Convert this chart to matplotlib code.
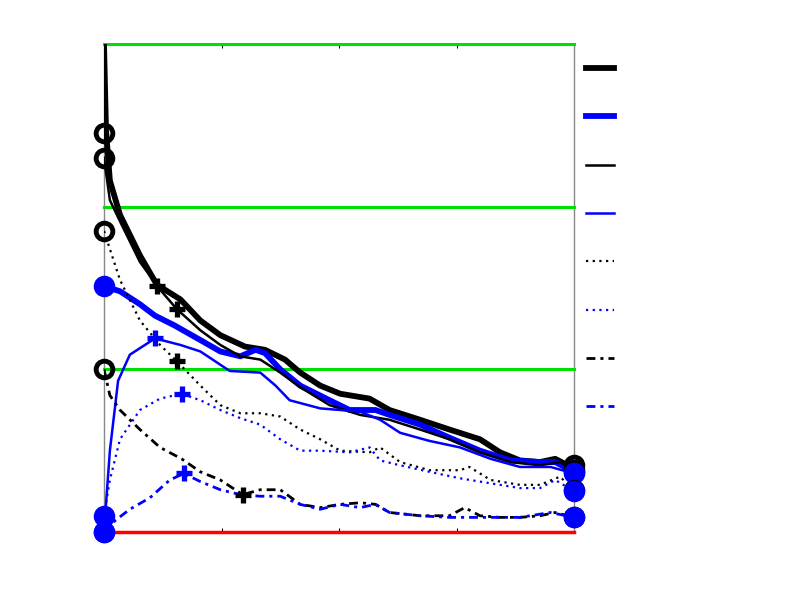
import numpy as np
import matplotlib
matplotlib.use("Agg")
import matplotlib.pyplot as plt

# --- data --------------------------------------------------------------
x1 = [0, 0.017, 0.05, 0.136, 0.306, 0.45, 0.65, 0.82, 0.99, 1.2, 1.37, 1.54, 1.67,
      1.84, 2.01, 2.26, 2.43, 2.69, 2.94, 3.2, 3.37, 3.54, 3.71, 3.84, 3.92, 4.0]
y1 = [3.0, 2.47, 2.16, 1.95, 1.70, 1.52, 1.43, 1.30, 1.21, 1.14, 1.12, 1.06, 0.98,
      0.90, 0.85, 0.82, 0.75, 0.69, 0.63, 0.57, 0.49, 0.44, 0.43, 0.45, 0.42, 0.41]

x2 = [0, 0.136, 0.306, 0.434, 0.6, 0.82, 0.99, 1.16, 1.29, 1.37, 1.5, 1.67, 1.92,
      2.09, 2.31, 2.43, 2.69, 2.94, 3.2, 3.46, 3.71, 3.84, 4.0]
y2 = [1.51, 1.48, 1.40, 1.33, 1.27, 1.18, 1.11, 1.08, 1.12, 1.10, 1.0, 0.90, 0.81,
      0.75, 0.75, 0.72, 0.66, 0.58, 0.50, 0.44, 0.43, 0.43, 0.37]

x3 = [0, 0.05, 0.136, 0.306, 0.477, 0.62, 0.82, 0.99, 1.16, 1.33, 1.5, 1.67, 1.92,
      2.18, 2.43, 2.69, 2.94, 3.2, 3.46, 3.71, 3.88, 4.0]
y3 = [2.30, 2.04, 1.91, 1.66, 1.49, 1.37, 1.24, 1.15, 1.08, 1.06, 0.98, 0.89, 0.78,
      0.72, 0.69, 0.63, 0.57, 0.49, 0.43, 0.41, 0.43, 0.38]

x4 = [0, 0.05, 0.12, 0.22, 0.434, 0.65, 0.82, 1.07, 1.33, 1.46, 1.58, 1.84, 2.01,
      2.18, 2.35, 2.52, 2.77, 3.03, 3.29, 3.54, 3.8, 4.0]
y4 = [0, 0.50, 0.93, 1.09, 1.19, 1.15, 1.11, 0.99, 0.98, 0.90, 0.81, 0.76, 0.75,
      0.74, 0.69, 0.61, 0.56, 0.52, 0.45, 0.40, 0.40, 0.36]

x5 = [0, 0.136, 0.306, 0.477, 0.62, 0.82, 0.99, 1.16, 1.33, 1.5, 1.67, 1.84, 2.01,
      2.26, 2.35, 2.52, 2.77, 3.03, 3.11, 3.29, 3.54, 3.71, 3.88, 4.0]
y5 = [1.85, 1.55, 1.30, 1.15, 1.05, 0.90, 0.78, 0.73, 0.73, 0.71, 0.63, 0.57, 0.50,
      0.49, 0.52, 0.43, 0.38, 0.38, 0.40, 0.32, 0.29, 0.29, 0.34, 0.26]

x6 = [0, 0.05, 0.136, 0.306, 0.477, 0.66, 0.82, 0.99, 1.16, 1.33, 1.5, 1.67, 1.84,
      2.09, 2.26, 2.35, 2.52, 2.77, 3.03, 3.2, 3.54, 3.71, 3.84, 4.0]
y6 = [0.10, 0.32, 0.57, 0.75, 0.82, 0.85, 0.81, 0.75, 0.70, 0.66, 0.57, 0.50, 0.50,
      0.49, 0.52, 0.44, 0.41, 0.37, 0.33, 0.31, 0.27, 0.27, 0.32, 0.25]

x7 = [0, 0.05, 0.136, 0.306, 0.477, 0.66, 0.82, 0.99, 1.18, 1.33, 1.5, 1.67, 1.84,
      2.01, 2.18, 2.31, 2.43, 2.69, 2.94, 3.07, 3.2, 3.37, 3.54, 3.71, 3.84, 4.0]
y7 = [1.0, 0.84, 0.75, 0.63, 0.52, 0.45, 0.37, 0.32, 0.23, 0.26, 0.26, 0.17, 0.15,
      0.17, 0.18, 0.17, 0.12, 0.10, 0.10, 0.15, 0.10, 0.09, 0.09, 0.10, 0.12, 0.09]

x8 = [0, 0.094, 0.22, 0.39, 0.56, 0.68, 0.82, 0.99, 1.16, 1.33, 1.5, 1.67, 1.84,
      2.01, 2.18, 2.31, 2.43, 2.69, 2.94, 3.2, 3.54, 3.8, 4.0]
y8 = [0, 0.07, 0.14, 0.21, 0.32, 0.36, 0.31, 0.26, 0.23, 0.22, 0.22, 0.17, 0.14,
      0.17, 0.15, 0.17, 0.12, 0.10, 0.09, 0.09, 0.09, 0.12, 0.09]

# start circle values, and '+' marker positions
start_y = [2.45, 1.51, 2.30, 0.0, 1.85, 0.10, 1.0, 0.0]
peak_x = [0.45, 0.0, 0.62, 0.434, 0.62, 0.66, 1.18, 0.68]
peak_y = [1.51, 1.51, 1.37, 1.19, 1.05, 0.85, 0.23, 0.36]

grid_y = [1, 2, 3]
xticks = [1, 2, 3]

# --- styles --------------------------------------------------------------
dotted = (0, (1, 2))
dashdot = (0, (3.2, 1.8, 1.1, 1.8))
styles = [
    dict(color="black", lw=4.2, ls="-"),
    dict(color="blue", lw=4.2, ls="-"),
    dict(color="black", lw=1.8, ls="-"),
    dict(color="blue", lw=1.8, ls="-"),
    dict(color="black", lw=1.6, ls=dotted),
    dict(color="blue", lw=1.6, ls=dotted),
    dict(color="black", lw=2.0, ls=dashdot),
    dict(color="blue", lw=2.0, ls=dashdot),
]
xs = [x1, x2, x3, x4, x5, x6, x7, x8]
ys = [y1, y2, y3, y4, y5, y6, y7, y8]

fig = plt.figure(figsize=(8, 6), dpi=100)
ax = fig.add_axes([0.13, 0.1133, 0.5875, 0.8134])

for sp in ax.spines.values():
    sp.set_color("#888888")
    sp.set_linewidth(1.0)
    sp.set_zorder(1)

for yg in grid_y:
    ax.axhline(yg, color="#00e000", lw=2.2, zorder=2, clip_on=False)
ax.axhline(0, color="red", lw=2.5, zorder=2, clip_on=False)

handles = []
for i in range(8):
    st = styles[i]
    h, = ax.plot(xs[i], ys[i], color=st["color"], lw=st["lw"], ls=st["ls"],
                 zorder=3, clip_on=True)
    handles.append(h)
    filled = st["color"] if st["color"] == "blue" else "none"
    ax.plot([0, xs[i][-1]], [start_y[i], ys[i][-1]], ls="none", marker="o",
            ms=12, mew=3.5, mec=st["color"], mfc=filled, zorder=4, clip_on=False)
    ax.plot([peak_x[i]], [peak_y[i]], ls="none", marker="+", ms=11, mew=3.8,
            color=st["color"], zorder=4, clip_on=False)

ax.set_xlim(0, 4)
ax.set_ylim(0, 3)
ax.set_xticks(xticks)
ax.set_xticklabels([])
ax.set_yticks([])
ax.tick_params(axis="x", direction="in", top=True, length=3, width=0.8)

ax.legend(handles, [""] * 8, loc="upper left", bbox_to_anchor=(1.0255, 0.963),
          frameon=False, borderpad=0, borderaxespad=0, handlelength=2.0,
          labelspacing=2.47, fontsize=10)

fig.savefig("out.png", dpi=100)
